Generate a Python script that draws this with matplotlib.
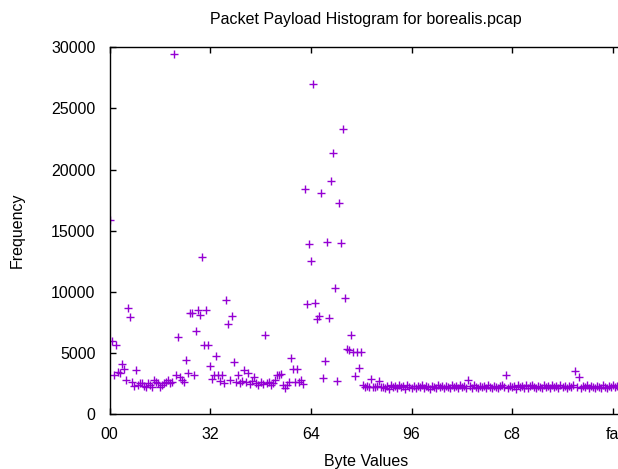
import matplotlib
matplotlib.use("Agg")
import matplotlib.pyplot as plt
import numpy as np

title = "Packet Payload Histogram for borealis.pcap"
x_label = "Byte Values"
y_label = "Frequency"

x_tick_values = [0, 50, 100, 150, 200, 250]
x_tick_labels = ["00", "32", "64", "96", "c8", "fa"]
y_tick_values = [0, 5000, 10000, 15000, 20000, 25000, 30000]

# frequency of each byte value 0x00 .. 0xff
freq_00_1f = [15900, 5975, 3180, 5650, 3400, 3350, 4050, 3670,
              2770, 8700, 7930, 2580, 2280, 3590, 2400, 2500,
              2550, 2300, 2230, 2500, 2360, 2230, 2770, 2630,
              2500, 2230, 2360, 2500, 2600, 2770, 2550, 2630]
freq_20_3f = [29450, 3230, 6300, 3040, 2770, 2600, 4400, 3370,
              8290, 8260, 3230, 6790, 8480, 8070, 12850, 5620,
              8530, 5620, 3910, 2900, 3230, 4730, 3180, 2700,
              3180, 2550, 9350, 7390, 2800, 8010, 4240, 2600]
freq_40_5f = [3230, 2500, 2700, 3640, 2600, 3370, 2450, 2700,
              3040, 2500, 2350, 2600, 2450, 6490, 2550, 2650,
              2350, 2500, 2800, 3230, 3180, 3260, 2360, 2090,
              2360, 2600, 4620, 3690, 2600, 3690, 2600, 2770]
freq_60_7f = [2420, 18390, 9020, 13910, 12500, 27000, 9100, 7800,
              8010, 18040, 2910, 4320, 14040, 7850, 19070, 21380,
              10320, 2720, 17300, 13990, 23280, 9510, 5300, 5220,
              6440, 5080, 3120, 5080, 3800, 5080, 2360, 2180]
freq_80_9f = [2250, 2180, 2830, 2200, 2180, 2250, 2690, 2180,
              2220, 2120, 2320, 2060, 2380, 2180, 2290, 2100,
              2350, 2200, 2300, 2080, 2400, 2220, 2140, 2330,
              2100, 2280, 2190, 2370, 2120, 2300, 2230, 2060]
freq_a0_bf = [2330, 2240, 2130, 2360, 2200, 2290, 2090, 2320,
              2230, 2140, 2390, 2180, 2280, 2110, 2340, 2220,
              2300, 2100, 2770, 2250, 2150, 2360, 2220, 2090,
              2310, 2200, 2290, 2130, 2380, 2220, 2110, 2330]
freq_c0_df = [2240, 2150, 2290, 2370, 2210, 3180, 2130, 2310,
              2200, 2280, 2080, 2350, 2220, 2300, 2150, 2380,
              2120, 2260, 2340, 2200, 2100, 2310, 2230, 2150,
              2370, 2220, 2290, 2100, 2340, 2190, 2270, 2130]
freq_e0_ff = [2350, 2220, 2260, 2120, 2320, 2200, 2390, 3500,
              2230, 3040, 2130, 2300, 2190, 2360, 2090, 2290,
              2220, 2140, 2330, 2240, 2150, 2350, 2220, 2110,
              2310, 2200, 2380, 2190, 2260, 2120, 2320, 2220]

frequencies = (freq_00_1f + freq_20_3f + freq_40_5f + freq_60_7f +
               freq_80_9f + freq_a0_bf + freq_c0_df + freq_e0_ff)
byte_values = np.arange(len(frequencies))

plt.rcParams['font.family'] = ['Liberation Sans', 'DejaVu Sans']

fig = plt.figure(figsize=(6.18, 4.69), dpi=100)
ax = fig.add_axes([109.5 / 618, 55 / 469, (622.9 - 109.5) / 618, (414 - 47.3) / 469])

ax.plot(byte_values, frequencies, linestyle='none', marker='+',
        markersize=5.4, markeredgewidth=1.0, color='#9400D3')

ax.set_xlim(0, 255)
ax.set_ylim(0, 30000)
ax.set_xticks(x_tick_values)
ax.set_xticklabels(x_tick_labels)
ax.set_yticks(y_tick_values)
ax.set_yticklabels([str(v) for v in y_tick_values])

ax.tick_params(direction='in', length=4.5, width=1.0, top=True, right=False,
               labelsize=11.5, colors='black')
ax.tick_params(axis='y', pad=10)
ax.tick_params(axis='x', pad=9)
for s in ax.spines.values():
    s.set_linewidth(1.0)
    s.set_color('black')

ax.set_title(title, fontsize=11.5, pad=17)
ax.set_xlabel(x_label, fontsize=11.5, labelpad=9)
ax.set_ylabel(y_label, fontsize=11.5, labelpad=19)

fig.savefig("out.png", dpi=100)
